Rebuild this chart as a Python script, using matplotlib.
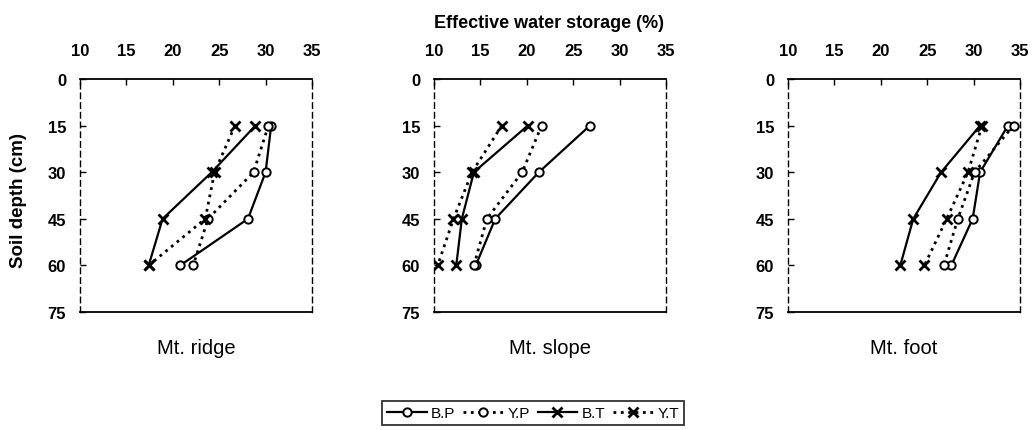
import matplotlib.pyplot as plt

# depth (cm) and effective water storage (%)
depth = [15, 30, 45, 60]
sites = ['Mt. ridge', 'Mt. slope', 'Mt. foot']

bp = [[30.6, 30.0, 28.1, 20.8], [26.8, 21.3, 16.6, 14.5], [33.7, 30.7, 29.9, 27.6]]
yp = [[30.3, 28.7, 23.8, 22.2], [21.6, 19.5, 15.7, 14.3], [34.3, 30.1, 28.3, 26.8]]
bt = [[28.9, 24.2, 18.9, 17.4], [20.1, 14.3, 13.0, 12.4], [30.7, 26.5, 23.5, 22.1]]
yt = [[26.7, 24.5, 23.5, 17.4], [17.3, 14.1, 12.1, 10.4], [30.9, 29.4, 27.1, 24.7]]

x_ticks = [10, 15, 20, 25, 30, 35]
y_ticks = [0, 15, 30, 45, 60, 75]

plt.rcParams['font.family'] = ['Liberation Sans', 'DejaVu Sans']

W, H = 1032, 431
fig = plt.figure(figsize=(W / 100, H / 100), dpi=100)
lefts = [80, 434, 788]

for i, site in enumerate(sites):
    ax = fig.add_axes([lefts[i] / W, 1 - 313 / H, 232 / W, 233 / H])
    l1, = ax.plot(bp[i], depth, '-', color='black', lw=1.6, marker='o', ms=6,
                  mfc='white', mec='black', mew=1.4, label='B.P')
    l2, = ax.plot(yp[i], depth, ':', color='black', lw=2, marker='o', ms=6,
                  mfc='white', mec='black', mew=1.4, label='Y.P')
    l3, = ax.plot(bt[i], depth, '-', color='black', lw=1.6, marker='x', ms=7,
                  mew=2, label='B.T')
    l4, = ax.plot(yt[i], depth, ':', color='black', lw=2, marker='x', ms=7,
                  mew=2, label='Y.T')
    ax.set_xlim(10, 35)
    ax.set_ylim(75, 0)
    ax.set_xticks(x_ticks)
    ax.set_yticks(y_ticks)
    ax.xaxis.tick_top()
    ax.tick_params(direction='in', length=4, width=1, labelsize=12)
    ax.tick_params(axis='x', pad=15)
    ax.tick_params(axis='y', pad=10)
    for lab in ax.get_xticklabels() + ax.get_yticklabels():
        lab.set_fontweight('bold')
    ax.spines['top'].set_linewidth(1.3)
    ax.spines['bottom'].set_linewidth(1.3)
    for s in ['left', 'right']:
        ax.spines[s].set_linestyle((0, (4, 3)))
        ax.spines[s].set_linewidth(1)
    fig.text((lefts[i] + 116) / W, 1 - 349 / H, site, ha='center', va='center',
             fontsize=14.5)

fig.text(549 / W, 1 - 24 / H, 'Effective water storage (%)', ha='center',
         va='center', fontsize=13, fontweight='bold')
fig.text(19 / W, 1 - 201 / H, 'Soil depth (cm)', ha='center', va='center',
         rotation=90, fontsize=13.5, fontweight='bold')

leg = fig.legend(handles=[l1, l2, l3, l4], loc='center', ncol=4,
                 bbox_to_anchor=(533 / W, 1 - 414 / H), fontsize=11,
                 frameon=True, fancybox=False, handlelength=2.6,
                 handletextpad=0.3, columnspacing=0.5, borderpad=0.35)
leg.get_frame().set_edgecolor('black')
leg.get_frame().set_linewidth(1.3)

plt.savefig('out.png', dpi=100)
